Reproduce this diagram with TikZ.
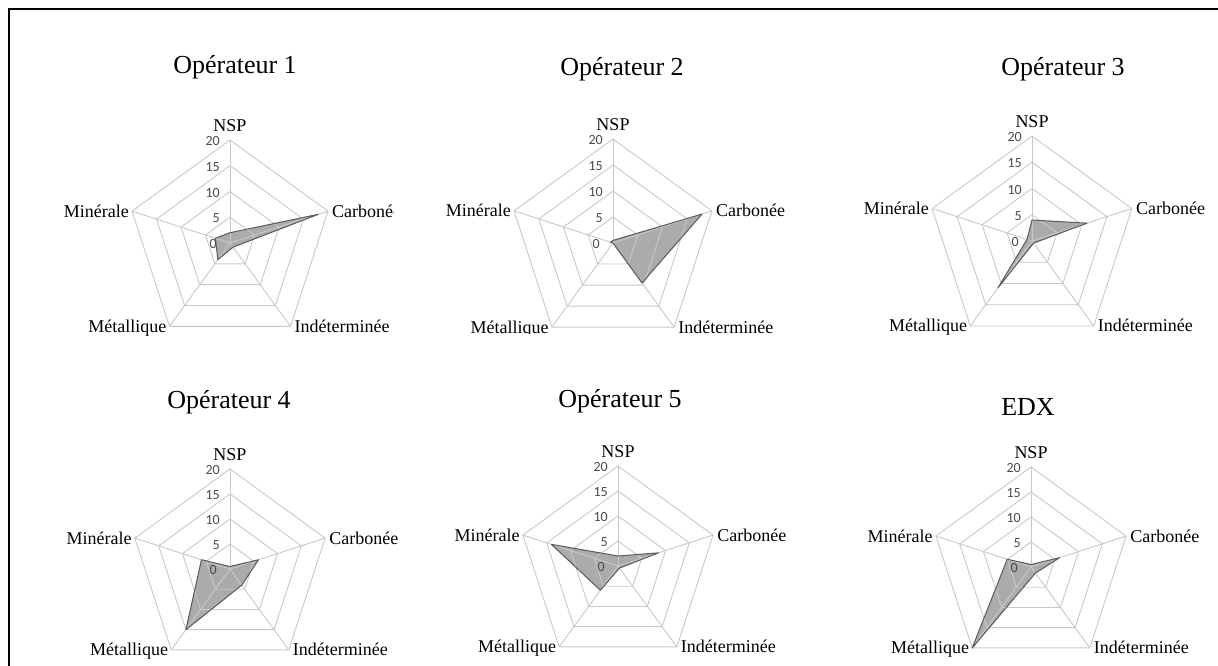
\documentclass[tikz,border=0pt]{standalone}
\usepackage{fontspec}
\setmainfont{Liberation Serif}
\newfontfamily\tickfont{Carlito}
\usetikzlibrary{calc}
\definecolor{gridgray}{HTML}{C8C8C8}
\definecolor{fillgray}{HTML}{ABABAB}
\definecolor{edgegray}{HTML}{5A5A5A}
\definecolor{tickgray}{HTML}{4A4A4A}
\tikzset{
  gridline/.style={draw=gridgray, line width=0.9pt},
  datafill/.style={fill=fillgray},
  dataline/.style={draw=edgegray, line width=1pt, line join=round},
  ticklab/.style={font=\tickfont\fontsize{14}{14}\selectfont, text=tickgray, inner sep=0pt},
  axlab/.style={font=\fontsize{18}{18}\selectfont, inner sep=0pt},
  charttitle/.style={font=\fontsize{26}{26}\selectfont, inner sep=0pt, anchor=base},
  frameline/.style={draw=black, line width=2.5pt}
}
% #1 name, #2 cx, #3 cy, #4 R, #5 NSP, #6 Carbonee, #7 Indeterminee, #8 Metallique, #9 Minerale
\newcommand{\radarchart}[9]{%
\begin{scope}[shift={(#2,-#3)}]
\pgfmathsetmacro\R{#4}
\pgfmathsetmacro\va{#5*\R/20}\pgfmathsetmacro\vb{#6*\R/20}%
\pgfmathsetmacro\vc{#7*\R/20}\pgfmathsetmacro\vd{#8*\R/20}%
\pgfmathsetmacro\ve{#9*\R/20}%
\fill[datafill] (90:\va pt) -- (18:\vb pt) -- (-54:\vc pt) -- (-126:\vd pt) -- (162:\ve pt) -- cycle;
\foreach \k in {5,10,15,20}{%
  \pgfmathsetmacro\rr{\k*\R/20}%
  \draw[gridline] (90:\rr pt) -- (18:\rr pt) -- (-54:\rr pt) -- (-126:\rr pt) -- (162:\rr pt) -- cycle;}
\foreach \a in {90,18,-54,-126,162}{\draw[gridline] (0,0) -- (\a:\R pt);}
\draw[dataline] (90:\va pt) -- (18:\vb pt) -- (-54:\vc pt) -- (-126:\vd pt) -- (162:\ve pt) -- cycle;
\foreach \k in {5,10,15,20}{\node[ticklab, anchor=east] (#1t\k) at (-10,{\k*\R/20-1}) {\k};}
\node[ticklab, anchor=east] (#1t0) at (-13,-1) {0};
\node[axlab, anchor=base] (#1nsp) at (0,\R+9) {NSP};
\node[axlab, anchor=base west] (#1car) at ($(18:\R pt)+(4,-6)$) {Carbonée};
\node[axlab, anchor=base east] (#1min) at ($(162:\R pt)+(-3,-6)$) {Minérale};
\node[axlab, anchor=base west] (#1ind) at ($(-54:\R pt)+(4,-6)$) {Indéterminée};
\node[axlab, anchor=base east] (#1met) at ($(-126:\R pt)+(-3,-6)$) {Métallique};
\end{scope}}
\begin{document}
\begin{tikzpicture}[x=1pt,y=1pt]
\useasboundingbox (0,0) rectangle (1218,-665);
\draw[frameline] (9,-670) -- (9,-9) -- (1225,-9);
% titles
\node[charttitle] (t1) at (235,-73) {Opérateur 1};
\node[charttitle] (t2) at (622,-75) {Opérateur 2};
\node[charttitle] (t3) at (1063,-75) {Opérateur 3};
\node[charttitle] (t4) at (229,-408) {Opérateur 4};
\node[charttitle] (t5) at (620,-407) {Opérateur 5};
\node[charttitle] (t6) at (1028,-415) {EDX};
% charts
\begin{scope}
\clip (0,0) rectangle (393,-665);
\radarchart{a}{230}{243}{103}{2}{18}{1}{4}{3}
\end{scope}
\begin{scope}
\clip (400,0) -- (820,0) -- (820,-665) -- (600,-665) -- (600,-333.5) -- (400,-333.5) -- cycle;
\radarchart{b}{613}{243}{104}{0.5}{18}{9.5}{0}{0.5}
\end{scope}
\radarchart{c}{1032}{241}{105}{4}{11}{0.5}{11}{1}
\radarchart{d}{230}{569}{100}{0.5}{6}{4}{15}{6}
\radarchart{e}{618}{566}{100}{2}{8.5}{0.5}{6}{14}
\radarchart{f}{1031}{567}{100}{0.5}{6}{1.5}{20}{5}
\end{tikzpicture}
\end{document}
